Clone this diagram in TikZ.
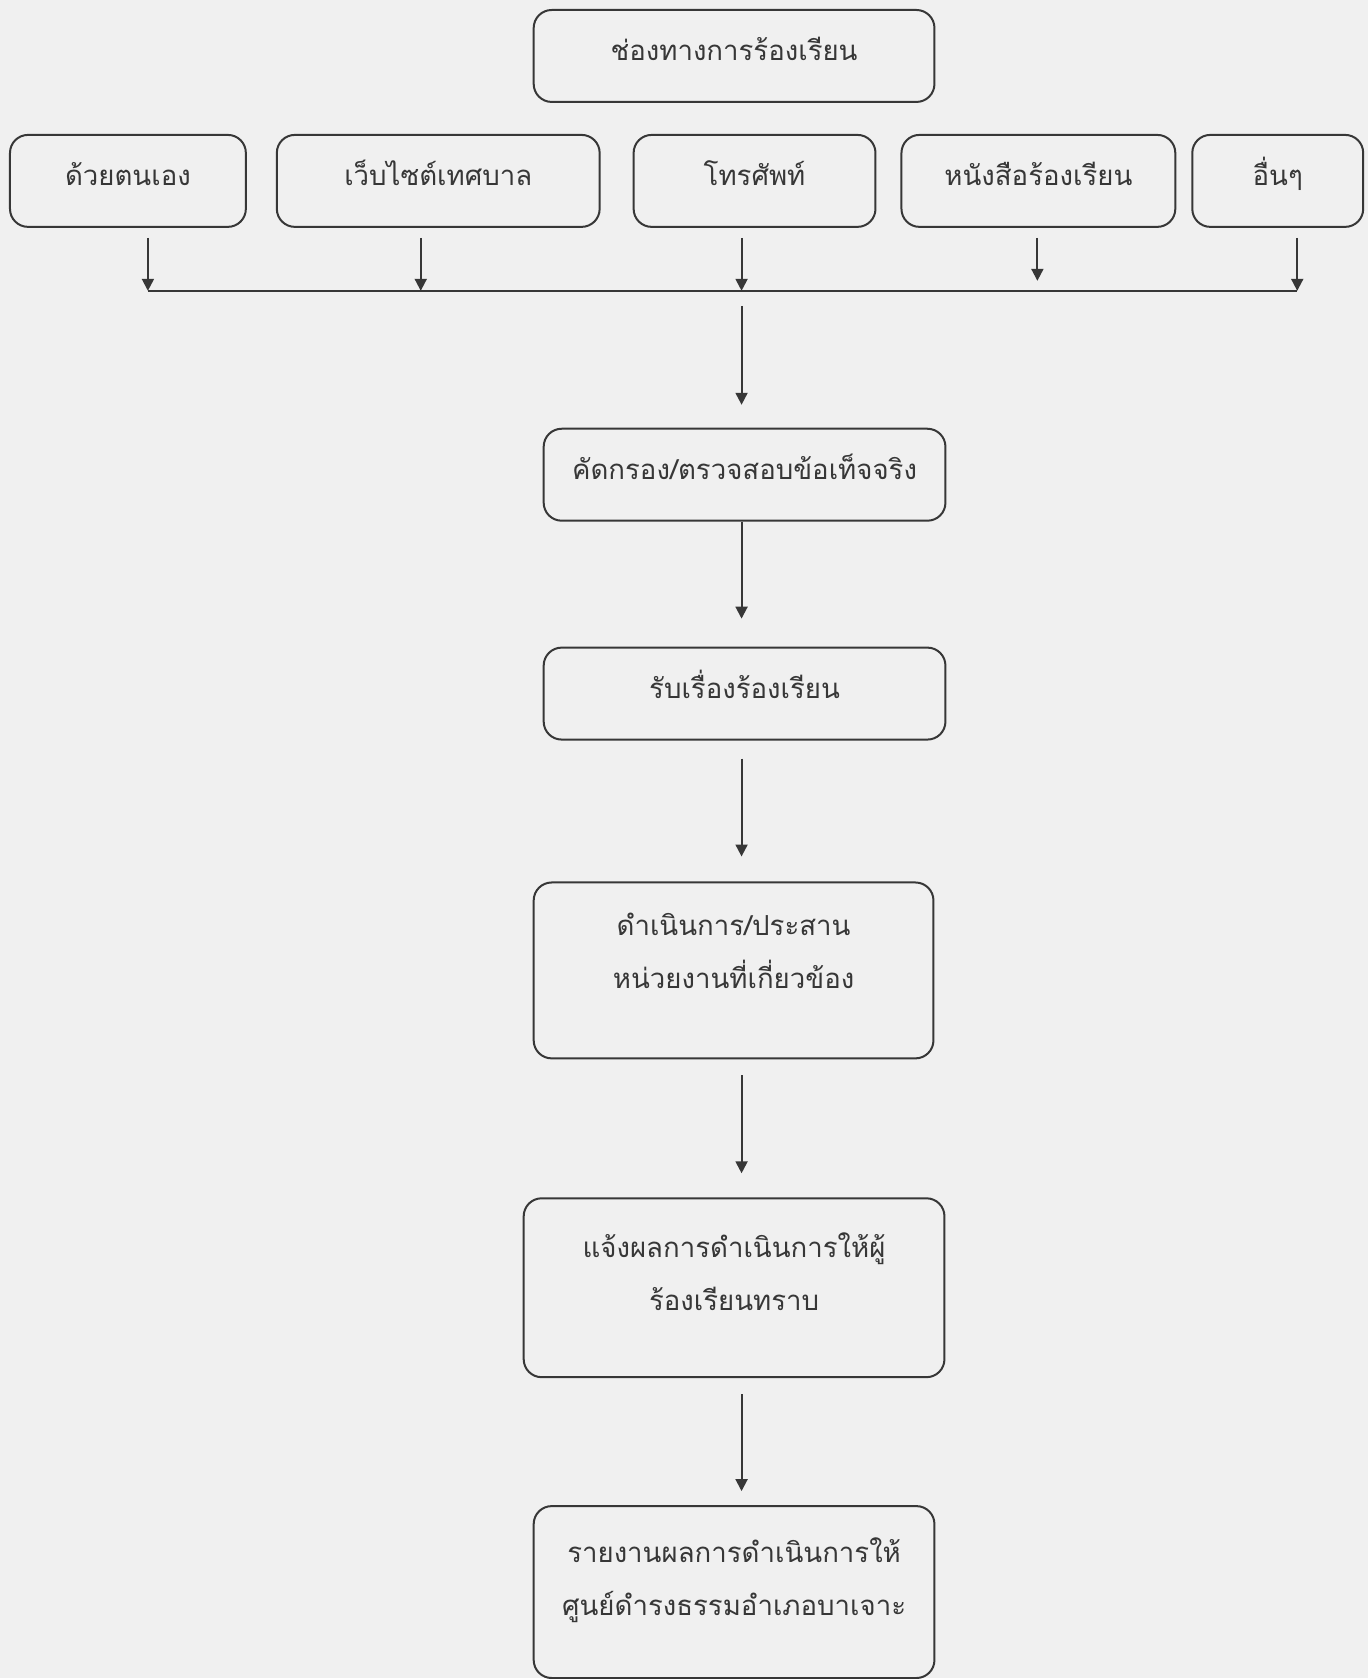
\documentclass[tikz,border=0pt]{standalone}
\usepackage{fontspec}
\newfontfamily\thaifont[Script=Thai]{Loma}
\usetikzlibrary{arrows.meta}
\definecolor{carta}{RGB}{240,240,240}
\definecolor{tratto}{RGB}{55,55,55}

\begin{document}
\begin{tikzpicture}[x=0.5pt, y=-0.5pt, ->, >={Triangle[length=6pt, width=6pt]}, line width=1pt, tratto]

%====Stile dei riquadri=====================================================

	\tikzstyle{passo}=[draw, rounded corners=9pt, align=center, inner sep=0pt, anchor=north,
		text height=25.5pt, text depth=20.5pt, font=\thaifont\fontsize{13.8}{26.5}\selectfont]

%====Sfondo=================================================================
	\fill[carta, -] (0,0) rectangle (1369,1679);

%====Riquadri e posizione===================================================
	\node[passo, minimum width=200.5pt]	(canali)	at (734.5,9)		{ช่องทางการร้องเรียน};

	\node[passo, minimum width=118pt]		(sestesso)	at (128,134)		{ด้วยตนเอง};
	\node[passo, minimum width=161.5pt]	(sito)		at (438.5,134)	{เว็บไซต์เทศบาล};
	\node[passo, minimum width=121pt]		(telefono)	at (755,134)		{โทรศัพท์};
	\node[passo, minimum width=137pt]		(lettera)	at (1039,134)	{หนังสือร้องเรียน};
	\node[passo, minimum width=85.5pt]		(altro)		at (1278.5,134)	{อื่นๆ};

	\node[passo, minimum width=201pt]		(verifica)	at (745,428)		{คัดกรอง/ตรวจสอบข้อเท็จจริง};
	\node[passo, minimum width=201pt]		(ricezione)	at (745,647)		{รับเรื่องร้องเรียน};
	\node[passo, minimum width=200pt, text height=53pt, text depth=35pt]
											(azione)	at (734,882)		{ดำเนินการ/ประสาน\\หน่วยงานที่เกี่ยวข้อง};
	\node[passo, minimum width=210.5pt, text height=56pt, text depth=33.5pt]
											(avviso)	at (734.5,1198)	{แจ้งผลการดำเนินการให้ผู้\\ร้องเรียนทราบ};
	\node[passo, minimum width=200.5pt, text height=54.5pt, text depth=31.5pt]
											(rapporto)	at (734.5,1506)	{รายงานผลการดำเนินการให้\\ศูนย์ดำรงธรรมอำเภอบาเจาะ};

%====Punti della linea di raccolta==========================================
	\coordinate (a1) at (148,238);	\coordinate (b1) at (148,291);
	\coordinate (a2) at (421,238);	\coordinate (b2) at (421,291);
	\coordinate (a3) at (742,238);	\coordinate (b3) at (742,291);
	\coordinate (a4) at (1038,238);	\coordinate (b4) at (1038,281);
	\coordinate (a5) at (1298,238);	\coordinate (b5) at (1298,291);
	\coordinate (c0) at (742,306);
	\coordinate (asse) at (742,0);

%====Collegamenti===========================================================
			%from		stile						to
	\path	(a1)		edge								(b1)
			(a2)		edge								(b2)
			(a3)		edge								(b3)
			(a4)		edge								(b4)
			(a5)		edge								(b5)
			(b1)		edge	[-]							(b5)
			(c0)		edge	[shorten >=11.5pt]			(verifica.north -| asse)
			(verifica.south -| asse)	edge	[shorten >=14pt]				(ricezione.north -| asse)
			(ricezione.south -| asse)	edge	[shorten <=9pt, shorten >=12.5pt]	(azione.north -| asse)
			(azione.south -| asse)		edge	[shorten <=8pt, shorten >=12pt]		(avviso.north -| asse)
			(avviso.south -| asse)		edge	[shorten <=8pt, shorten >=7pt]		(rapporto.north -| asse);
\end{tikzpicture}
\end{document}
